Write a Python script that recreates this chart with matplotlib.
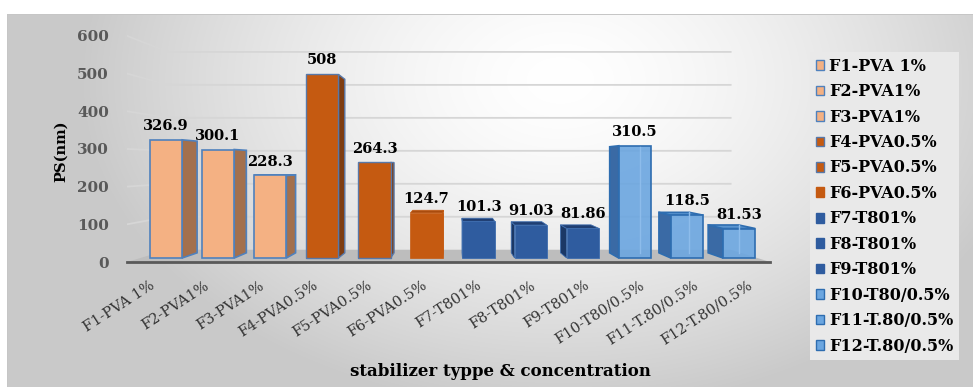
import numpy as np
import matplotlib
matplotlib.use("Agg")
import matplotlib.pyplot as plt
from matplotlib.patches import Polygon, Patch
from matplotlib.colors import to_rgba

# ---- data -------------------------------------------------------------
categories = ["F1-PVA 1%", "F2-PVA1%", "F3-PVA1%", "F4-PVA0.5%", "F5-PVA0.5%",
              "F6-PVA0.5%", "F7-T801%", "F8-T801%", "F9-T801%",
              "F10-T80/0.5%", "F11-T.80/0.5%", "F12-T.80/0.5%"]
sizes_nm = [326.9, 300.1, 228.3, 508, 264.3, 124.7,
            101.3, 91.03, 81.86, 310.5, 118.5, 81.53]
y_ticks = [0, 100, 200, 300, 400, 500, 600]

# ---- styles -------------------------------------------------------------
STYLES = {
    "peach":   dict(front="#F4B183", side="#A3704D", top="#E09A6A", edge="#4F81BD", lw=1.2, alpha=1.0),
    "rust_e":  dict(front="#C55A11", side="#7E3D12", top="#A94C0E", edge="#5878A8", lw=1.0, alpha=1.0),
    "rust":    dict(front="#C55A11", side="#8A4210", top="#A94C0E", edge="#C55A11", lw=0.5, alpha=1.0),
    "navy":    dict(front="#2F5C9F", side="#1B3866", top="#203F72", edge="#3D6CAD", lw=0.6, alpha=1.0),
    "sky":     dict(front="#6BA6E0", side="#3A6AA5", top="#5A95D0", edge="#2E6DB0", lw=1.2, alpha=0.9),
}
bar_style = ["peach"] * 3 + ["rust_e"] * 2 + ["rust"] + ["navy"] * 3 + ["sky"] * 3

plt.rcParams["font.family"] = ["DejaVu Serif"]

# ---- perspective geometry (data units of the bar plane) ----------------
VP = (5.53, 260.0)          # vanishing point
T_FRONT = -0.0426           # front edge of floor / walls
T_BACK = 0.088              # back wall
T_BAR = 0.055               # bar depth
BAR_W = 0.62
ROOM_X = (-0.492, 11.35)
PX_X, PX_Y = 52.1, 0.3615   # pixels per data unit
ORIGIN = (166.0, 258.0)     # pixel position of (0, 0)
W, H = 973, 387


def depth(x, y, t):
    return x + t * (VP[0] - x), y + t * (VP[1] - y)


x_lo = depth(ROOM_X[0], 0, T_FRONT)[0]
x_hi = depth(ROOM_X[1], 0, T_FRONT)[0]
y_lo = depth(0, 0, T_FRONT)[1]
y_hi = 630.0

fig = plt.figure(figsize=(W / 100, H / 100), dpi=100)

# ---- chart-area background (radial gradient with frame) ----------------
bg = fig.add_axes([0, 0, 1, 1], zorder=-10)
bg.set_axis_off()
yy, xx = np.mgrid[0:H, 0:W]
d = np.hypot((xx - 560) / 480.0, (yy - 80) / 330.0)
shade = 1 - 0.21 * np.clip(d, 0, 1) ** 1.5
img = np.repeat(shade[..., None], 3, axis=2)
img[(xx < 7) | (yy < 14)] = 1.0
img[(yy == 14) & (xx >= 7)] = 0.78
img[(xx == 7) & (yy >= 14)] = 0.78
bg.imshow(img, extent=(0, W, H, 0), aspect="auto", interpolation="bilinear")
bg.set_xlim(0, W)
bg.set_ylim(H, 0)

# ---- main axes --------------------------------------------------------
left_px = ORIGIN[0] + PX_X * x_lo
right_px = ORIGIN[0] + PX_X * x_hi
bot_px = ORIGIN[1] - PX_Y * y_lo
top_px = ORIGIN[1] - PX_Y * y_hi
ax = fig.add_axes([left_px / W, (H - bot_px) / H,
                   (right_px - left_px) / W, (bot_px - top_px) / H])
ax.set_facecolor("none")
ax.set_xlim(x_lo, x_hi)
ax.set_ylim(y_lo, y_hi)

# gridlines on back and left walls
grid_c = "#d6d6d6"
for v in y_ticks[1:]:
    fx, fy = depth(ROOM_X[0], v, T_FRONT)
    bx0, by = depth(ROOM_X[0], v, T_BACK)
    bx1, _ = depth(ROOM_X[1], v, T_BACK)
    ax.plot([fx, bx0, bx1], [fy, by, by], color=grid_c, lw=1.3, zorder=1,
            solid_joinstyle="miter")

# floor
floor = [depth(ROOM_X[0], 0, T_FRONT), depth(ROOM_X[1], 0, T_FRONT),
         depth(ROOM_X[1], 0, T_BACK), depth(ROOM_X[0], 0, T_BACK)]
ax.add_patch(Polygon(floor, closed=True, facecolor="#bdbdbd", edgecolor="none", zorder=2))

# bar side / top faces
idx = np.arange(len(sizes_nm))
for i, (v, key) in enumerate(zip(sizes_nm, bar_style)):
    st = STYLES[key]
    xl, xr = i - BAR_W / 2, i + BAR_W / 2
    side_x = xr if xr < VP[0] else (xl if xl > VP[0] else None)
    if side_x is not None:
        poly = [(side_x, 0), (side_x, v), depth(side_x, v, T_BAR), depth(side_x, 0, T_BAR)]
        ax.add_patch(Polygon(poly, closed=True, facecolor=st["side"],
                             edgecolor=st["edge"], lw=st["lw"], zorder=3))
    if v < VP[1]:
        poly = [(xl, v), (xr, v), depth(xr, v, T_BAR), depth(xl, v, T_BAR)]
        ax.add_patch(Polygon(poly, closed=True, facecolor=st["top"],
                             edgecolor=st["edge"], lw=st["lw"], zorder=3))

# bar front faces
fronts = [to_rgba(STYLES[k]["front"], STYLES[k]["alpha"]) for k in bar_style]
edges = [STYLES[k]["edge"] for k in bar_style]
lws = [STYLES[k]["lw"] for k in bar_style]
bars = ax.bar(idx, sizes_nm, width=BAR_W, color=fronts, edgecolor=edges,
              linewidth=lws, zorder=4)

# back edges seen through the translucent bars
for i, (v, key) in enumerate(zip(sizes_nm, bar_style)):
    if STYLES[key]["alpha"] < 1:
        xr = i + BAR_W / 2
        (bx, by0), (_, by1) = depth(xr, 0, T_BAR), depth(xr, v, T_BAR)
        ax.plot([bx, bx], [by0, by1], color="#8DBCEB", lw=1.0, zorder=5)

ax.bar_label(bars, fmt="%g", padding=5, fontsize=10.5, fontweight="bold",
             color="black", zorder=6)

# axes decoration
for s in ("top", "right", "left"):
    ax.spines[s].set_visible(False)
ax.spines["bottom"].set_color("#595959")
ax.spines["bottom"].set_linewidth(2.0)
ax.spines["bottom"].set_zorder(5)

ax.set_xticks([depth(i, 0, T_FRONT)[0] for i in idx], categories,
              rotation=33, ha="right", va="center", rotation_mode="anchor",
              fontsize=10.5, color="#333333")
ax.tick_params(axis="x", length=0, pad=16)
ax.set_yticks([depth(0, v, T_FRONT)[1] for v in y_ticks], [str(v) for v in y_ticks],
              fontsize=11, fontweight="bold", color="#595959")
ax.tick_params(axis="y", length=0, pad=13)

ax.set_ylabel("PS(nm)", fontsize=10.5, fontweight="bold", color="black")
ax.yaxis.set_label_coords(-0.092, 0.478)
ax.set_xlabel("stabilizer typpe & concentration", fontsize=12, fontweight="bold",
              color="black")
ax.xaxis.set_label_coords(0.58, -0.435)

# legend
handles = [Patch(facecolor=STYLES[k]["front"],
                 edgecolor=STYLES[k]["edge"] if k not in ("rust", "navy") else STYLES[k]["front"],
                 linewidth=1.0)
           for k in bar_style]
leg = fig.legend(handles, categories, loc="upper left",
                 bbox_to_anchor=(810 / W, 1 - 52 / H), frameon=True,
                 fancybox=False, facecolor="#e9e9e9", edgecolor="none",
                 framealpha=1.0, handlelength=0.55, handleheight=0.55,
                 handletextpad=0.3, labelspacing=0.53, borderpad=0.35,
                 borderaxespad=0,
                 prop=dict(family="DejaVu Serif", weight="bold", size=11.5))

fig.savefig("out.png", dpi=100)
